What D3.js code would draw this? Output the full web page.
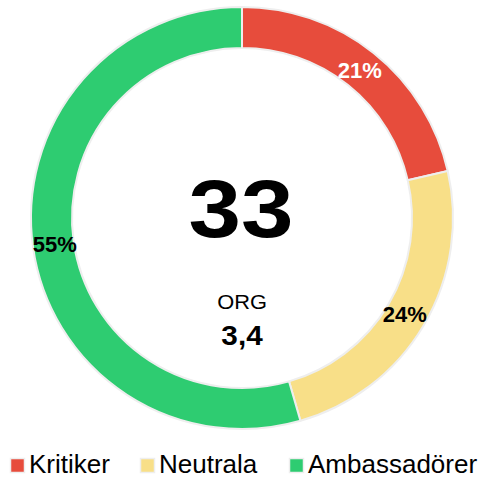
<!DOCTYPE html>
<html>
<head>
<meta charset="utf-8">
<script src="https://cdn.jsdelivr.net/npm/d3@7"></script>
<style>
  body { margin: 0; background: #fff; }
  svg { display: block; font-family: "Liberation Sans", Arial, sans-serif; }
</style>
</head>
<body>
<div id="chart"></div>
<script>
var categories = ["Kritiker", "Neutrala", "Ambassadörer"];
var values = [24, 27, 61];
var pctLabels = ["21%", "24%", "55%"];
var colors = ["#e74c3c", "#f8df88", "#2ecc71"];
var labelColors = ["#fff", "#000", "#000"];
var centerValue = "33";
var centerTitle = "ORG";
var centerSub = "3,4";

var width = 486, height = 478;
var cx = 242, cy = 218, outerR = 211, innerR = 170;

var svg = d3.select("#chart")
  .append("svg")
  .attr("width", width)
  .attr("height", height);

var pie = d3.pie().sort(null).value(function(d) { return d; });
var arcs = pie(values);

var arc = d3.arc().innerRadius(innerR).outerRadius(outerR);
var labelArc = d3.arc().innerRadius(189).outerRadius(189);

var g = svg.append("g").attr("transform", "translate(" + cx + "," + cy + ")");

g.selectAll("path.slice")
  .data(arcs)
  .enter().append("path")
  .attr("class", "slice")
  .attr("d", arc)
  .attr("fill", function(d, i) { return colors[i]; })
  .attr("stroke", "#eeeeee")
  .attr("stroke-width", 2)
  .attr("stroke-linejoin", "round");

// percentage labels
g.selectAll("text.pct")
  .data(arcs)
  .enter().append("text")
  .attr("class", "pct")
  .attr("transform", function(d) { return "translate(" + labelArc.centroid(d) + ")"; })
  .attr("text-anchor", "middle")
  .attr("dy", "0.36em")
  .style("font-size", "22px")
  .style("font-weight", "bold")
  .attr("fill", function(d, i) { return labelColors[i]; })
  .text(function(d, i) { return pctLabels[i]; });

// center texts (bold glyphs in the reference are a bit wider than Arial)
g.append("text")
  .attr("text-anchor", "middle")
  .attr("transform", "translate(-1,19) scale(1.15,1)")
  .style("font-size", "82px")
  .style("font-weight", "bold")
  .text(centerValue);

g.append("text")
  .attr("text-anchor", "middle")
  .attr("transform", "translate(0,91) scale(1.04,1)")
  .style("font-size", "21px")
  .text(centerTitle);

g.append("text")
  .attr("text-anchor", "middle")
  .attr("transform", "translate(0,127) scale(1.1,1)")
  .style("font-size", "27px")
  .style("font-weight", "bold")
  .text(centerSub);

// legend
var legendX = [10, 140, 289];
var legend = svg.selectAll("g.legend")
  .data(categories)
  .enter().append("g")
  .attr("class", "legend")
  .attr("transform", function(d, i) { return "translate(" + legendX[i] + ",458)"; });

legend.append("rect")
  .attr("x", 0.5).attr("y", 0.5)
  .attr("width", 14).attr("height", 14)
  .attr("fill", function(d, i) { return colors[i]; })
  .attr("stroke", "#eeeeee")
  .attr("stroke-width", 1.5);

legend.append("text")
  .attr("x", 19)
  .attr("y", 15)
  .style("font-size", "26px")
  .attr("fill", "#000")
  .text(function(d) { return d; });
</script>
</body>
</html>
